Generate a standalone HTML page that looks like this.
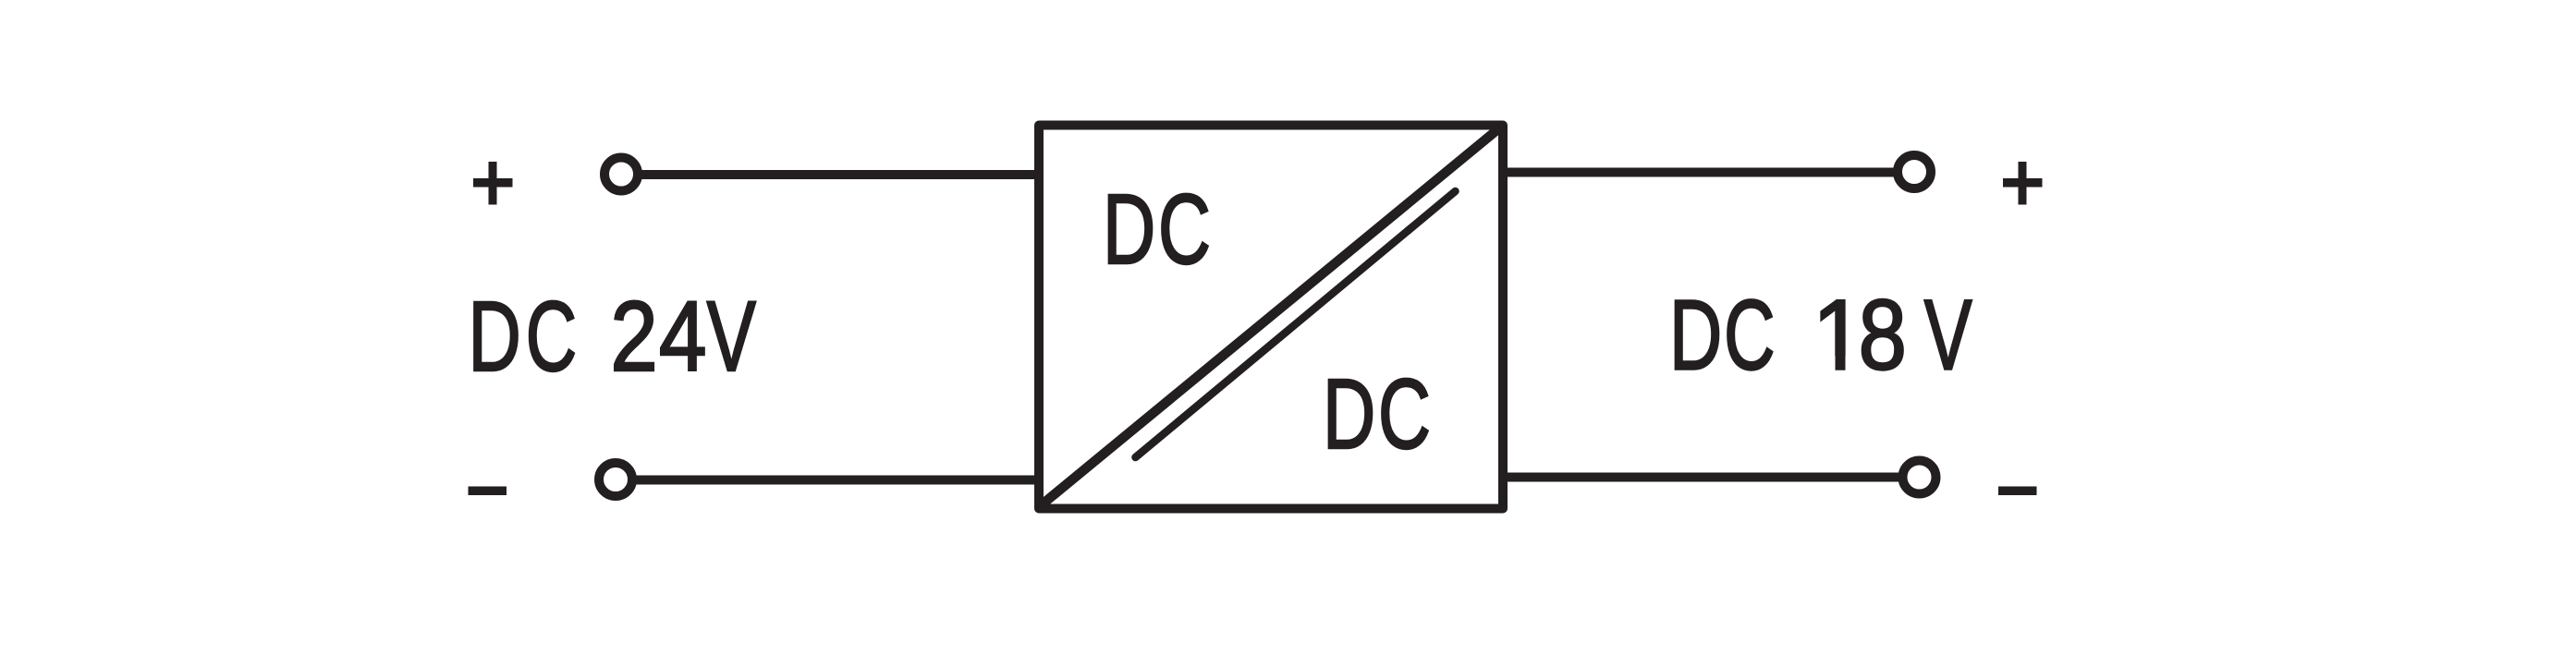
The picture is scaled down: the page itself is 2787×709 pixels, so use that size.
<!DOCTYPE html>
<html><head><meta charset="utf-8"><style>
html,body{margin:0;padding:0;background:#fff}
svg{display:block}
text{font-family:"Liberation Sans",sans-serif;font-size:108px;fill:#231f20;stroke:#231f20;stroke-width:2.4px}
</style></head><body>
<svg width="2787" height="709" viewBox="0 0 2787 709" xmlns="http://www.w3.org/2000/svg">
<rect width="2787" height="709" fill="#fff"/>
<g fill="none" stroke="#231f20" stroke-width="10">
<rect x="1124" y="135.5" width="502" height="415" stroke-linejoin="round"/>
<line x1="1125" y1="548" x2="1623" y2="138" stroke-width="10.5"/>
<line x1="1228.5" y1="495" x2="1574.5" y2="207" stroke-width="8.5" stroke-linecap="round"/>
<line x1="692" y1="189" x2="1122" y2="189"/>
<line x1="686" y1="519.5" x2="1122" y2="519.5"/>
<line x1="1626" y1="186.5" x2="2052" y2="186.5"/>
<line x1="1626" y1="516.5" x2="2057" y2="516.5"/>
<ellipse cx="672" cy="188.5" rx="18" ry="18"/>
<ellipse cx="666" cy="519" rx="18" ry="18"/>
<ellipse cx="2071" cy="186" rx="18" ry="18"/>
<ellipse cx="2076.5" cy="516.5" rx="18" ry="18"/>
</g>
<g fill="#231f20">
<rect x="512" y="193" width="42.5" height="9.5"/><rect x="528.5" y="175" width="9" height="46.5"/>
<rect x="506.5" y="526.5" width="41.5" height="9.5"/>
<rect x="2167" y="193" width="42.5" height="9.5"/><rect x="2183.5" y="175" width="9" height="46.5"/>
<rect x="2162" y="526.5" width="41.5" height="9.5"/>
</g>
<text transform="translate(506.5 401) scale(.734 1)">D</text>
<text transform="translate(568.7 401) scale(.71 1)">C</text>
<text transform="translate(660.4 401) scale(.854 1)">2</text>
<text transform="translate(712.9 401) scale(.86 1)">4</text>
<text transform="translate(764.6 401) scale(.74 1)">V</text>
<text transform="translate(1806 399.5) scale(.734 1)">D</text>
<text transform="translate(1865.1 399.5) scale(.71 1)">C</text>
<text transform="translate(1960.6 399.5) scale(.95 1)">1</text>
<rect x="1958" y="385" width="27.5" height="17" fill="#fff"/>
<rect x="1996.5" y="385" width="18" height="17" fill="#fff"/>
<text transform="translate(2010.6 399.5) scale(.87 1)">8</text>
<text transform="translate(2081.7 399.5) scale(.72 1)">V</text>
<text transform="translate(1193 285) scale(.734 1)">D</text>
<text transform="translate(1253 285) scale(.73 1)">C</text>
<text transform="translate(1431 485) scale(.734 1)">D</text>
<text transform="translate(1491 485) scale(.73 1)">C</text>
</svg>
</body></html>
